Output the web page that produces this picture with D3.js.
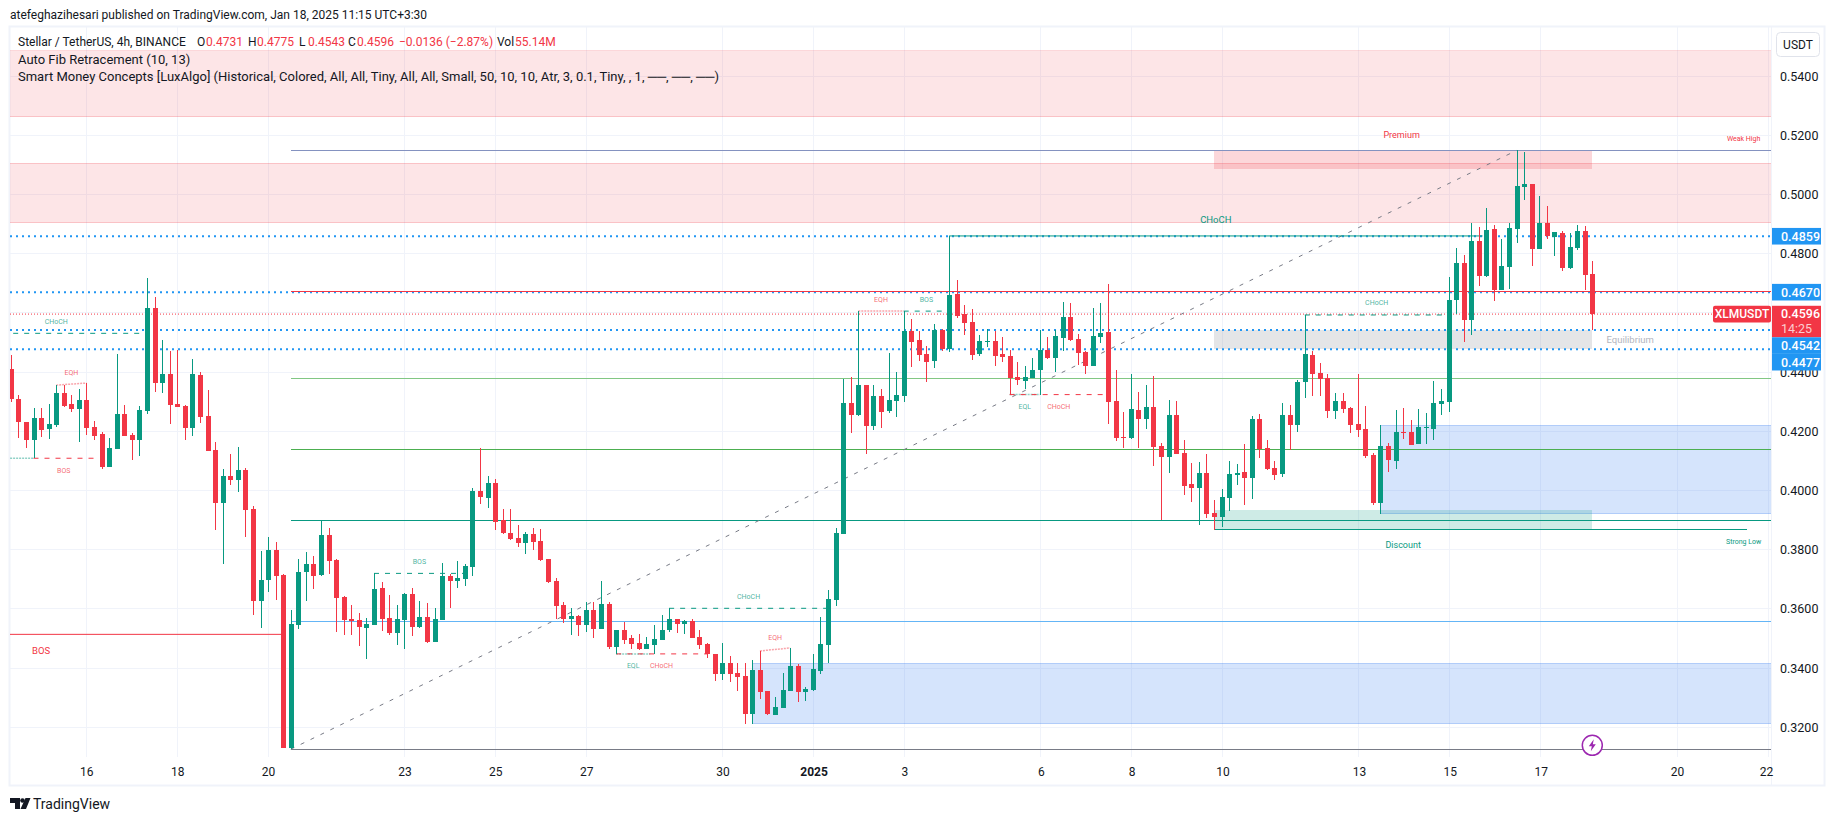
<!DOCTYPE html>
<html>
<head>
<meta charset="utf-8">
<script src="https://cdn.jsdelivr.net/npm/d3@7"></script>
<style>
  body { margin: 0; background: #fff; }
  svg { display: block; }
  text { font-family: Roboto, sans-serif; }
</style>
</head>
<body>
<div class="svg-container"></div>
<script>
// XLMUSDT 4h candles, left to right
let opens = [
  .4410,.4309,.4231,.4171,.4245,.4208,.4221,.4329,.4292,.4275,
  .4306,.4215,.4191,.4079,.4140,.4258,.4188,.4171,.4269,.4616,
  .4363,.4394,.4292,.4285,.4211,.4390,.4252,.4137,.3958,.4049,
  .4035,.4069,.3938,.3627,.3698,.3799,.3715,.3130,.3546,.3725,
  .3752,.3715,.3850,.3765,.3640,.3566,.3563,.3536,.3546,.3671,
  .3569,.3519,.3563,.3650,.3539,.3573,.3488,.3563,.3711,.3694,
  .3701,.3742,.3998,.3975,.4025,.3900,.3856,.3840,.3823,.3853,
  .3829,.3769,.3694,.3613,.3566,.3576,.3546,.3596,.3532,.3617,
  .3471,.3529,.3502,.3485,.3465,.3478,.3495,.3529,.3566,.3549,
  .3559,.3505,.3481,.3448,.3380,.3417,.3384,.3373,.3245,.3394,
  .3323,.3242,.3265,.3323,.3407,.3319,.3326,.3390,.3478,.3630,
  .3853,.4296,.4255,.4356,.4218,.4319,.4269,.4302,.4319,.4539,
  .4508,.4461,.4438,.4542,.4478,.4664,.4596,.4569,.4461,.4502,
  .4505,.4461,.4454,.4384,.4370,.4380,.4407,.4475,.4448,.4515,
  .4586,.4512,.4468,.4421,.4519,.4536,.4302,.4181,.4177,.4272,
  .4242,.4282,.4150,.4113,.4255,.4127,.4022,.4009,.4059,.3924,
  .3911,.3975,.4052,.4063,.4042,.4242,.4144,.4076,.4056,.4255,
  .4221,.4367,.4458,.4397,.4380,.4269,.4302,.4279,.4225,.4208,
  .4120,.3958,.4150,.4100,.4198,.4198,.4157,.4211,.4208,.4292,
  .4299,.4644,.4769,.4576,.4843,.4725,.4883,.4677,.4755,.4883,
  .5025,.5036,.4816,.4904,.4856,.4870,.4752,.4819,.4877,.4731
];
let highs = [
  .4458,.4323,.4231,.4279,.4279,.4292,.4356,.4356,.4323,.4343,
  .4363,.4235,.4198,.4177,.4461,.4289,.4194,.4285,.4718,.4654,
  .4508,.4471,.4475,.4289,.4444,.4400,.4340,.4164,.4073,.4123,
  .4147,.4076,.3948,.3796,.3843,.3826,.3718,.3596,.3769,.3792,
  .3779,.3897,.3873,.3769,.3644,.3613,.3586,.3569,.3720,.3691,
  .3647,.3613,.3654,.3671,.3627,.3620,.3603,.3755,.3718,.3762,
  .3752,.4008,.4144,.4049,.4039,.3938,.3938,.3883,.3860,.3873,
  .3870,.3769,.3704,.3623,.3603,.3579,.3623,.3623,.3694,.3623,
  .3529,.3556,.3512,.3515,.3505,.3546,.3579,.3603,.3566,.3563,
  .3566,.3529,.3485,.3448,.3485,.3441,.3417,.3417,.3427,.3458,
  .3323,.3302,.3384,.3468,.3414,.3336,.3448,.3573,.3664,.3873,
  .4376,.4384,.4606,.4356,.4356,.4343,.4465,.4400,.4606,.4579,
  .4539,.4488,.4563,.4546,.4860,.4711,.4627,.4613,.4525,.4546,
  .4539,.4519,.4475,.4434,.4421,.4448,.4542,.4519,.4542,.4637,
  .4634,.4529,.4471,.4617,.4634,.4698,.4407,.4265,.4394,.4333,
  .4356,.4387,.4161,.4306,.4302,.4171,.4093,.4096,.4123,.3968,
  .4005,.4100,.4090,.4157,.4252,.4259,.4171,.4100,.4296,.4289,
  .4373,.4593,.4471,.4431,.4394,.4329,.4329,.4282,.4394,.4285,
  .4127,.4221,.4161,.4272,.4279,.4238,.4275,.4262,.4370,.4343,
  .4721,.4819,.4796,.4904,.4890,.4954,.4897,.4850,.4904,.5150,
  .5144,.5036,.4995,.4961,.4873,.4877,.4870,.4897,.4894,.4775
];
let lows = [
  .4299,.4177,.4144,.4109,.4181,.4174,.4215,.4282,.4265,.4164,
  .4188,.4171,.4073,.4079,.4140,.4184,.4103,.4117,.4258,.4333,
  .4329,.4225,.4282,.4171,.4184,.4228,.4133,.3867,.3752,.4019,
  .3995,.3843,.3579,.3536,.3657,.3630,.3130,.3126,.3532,.3627,
  .3667,.3711,.3718,.3522,.3512,.3512,.3475,.3431,.3546,.3525,
  .3512,.3478,.3465,.3509,.3536,.3485,.3488,.3563,.3603,.3671,
  .3677,.3711,.3954,.3941,.3867,.3853,.3833,.3809,.3786,.3799,
  .3762,.3688,.3566,.3552,.3512,.3509,.3522,.3502,.3532,.3465,
  .3448,.3481,.3465,.3461,.3465,.3448,.3495,.3522,.3519,.3515,
  .3502,.3465,.3434,.3356,.3360,.3353,.3323,.3211,.3211,.3296,
  .3242,.3242,.3265,.3323,.3285,.3289,.3323,.3380,.3417,.3610,
  .3853,.4194,.4252,.4123,.4204,.4211,.4262,.4248,.4299,.4417,
  .4438,.4367,.4414,.4471,.4468,.4583,.4525,.4441,.4454,.4485,
  .4421,.4434,.4323,.4357,.4343,.4380,.4323,.4444,.4400,.4471,
  .4505,.4424,.4394,.4421,.4498,.4225,.4167,.4144,.4174,.4144,
  .4208,.4083,.3900,.4059,.4123,.3985,.3961,.3884,.3907,.3867,
  .3877,.3931,.4019,.3951,.3971,.4110,.4069,.4036,.4046,.4137,
  .4198,.4313,.4319,.4319,.4245,.4242,.4262,.4194,.4181,.4110,
  .3951,.3921,.4063,.4073,.4174,.4154,.4157,.4157,.4171,.4255,
  .4265,.4596,.4502,.4525,.4691,.4721,.4640,.4677,.4681,.4836,
  .4981,.4758,.4816,.4850,.4792,.4742,.4748,.4813,.4677,.4543
];
let closes = [
  .4309,.4231,.4171,.4245,.4204,.4225,.4329,.4285,.4275,.4306,
  .4211,.4184,.4079,.4144,.4258,.4184,.4171,.4272,.4616,.4363,
  .4394,.4289,.4282,.4211,.4394,.4248,.4133,.3958,.4049,.4035,
  .4069,.3934,.3627,.3698,.3799,.3711,.3130,.3549,.3725,.3752,
  .3711,.3850,.3762,.3637,.3563,.3559,.3539,.3549,.3667,.3566,
  .3519,.3566,.3650,.3539,.3573,.3488,.3566,.3711,.3694,.3704,
  .3745,.3998,.3978,.4025,.3894,.3856,.3836,.3823,.3853,.3826,
  .3765,.3691,.3610,.3566,.3576,.3546,.3596,.3532,.3617,.3471,
  .3529,.3495,.3481,.3465,.3481,.3498,.3529,.3566,.3549,.3559,
  .3502,.3478,.3448,.3380,.3417,.3380,.3370,.3245,.3394,.3319,
  .3245,.3269,.3326,.3407,.3319,.3329,.3397,.3481,.3633,.3856,
  .4296,.4255,.4356,.4218,.4319,.4265,.4306,.4323,.4539,.4502,
  .4458,.4434,.4542,.4478,.4661,.4590,.4566,.4458,.4505,.4505,
  .4454,.4451,.4380,.4373,.4384,.4407,.4475,.4448,.4522,.4586,
  .4508,.4465,.4421,.4522,.4532,.4299,.4177,.4177,.4275,.4242,
  .4282,.4147,.4113,.4255,.4123,.4015,.4009,.4059,.3921,.3911,
  .3978,.4056,.4059,.4042,.4242,.4140,.4073,.4052,.4255,.4221,
  .4367,.4461,.4394,.4377,.4269,.4302,.4275,.4221,.4204,.4117,
  .3958,.4150,.4103,.4198,.4194,.4154,.4215,.4215,.4296,.4302,
  .4644,.4769,.4576,.4843,.4725,.4880,.4677,.4758,.4887,.5029,
  .5036,.4816,.4904,.4860,.4873,.4752,.4823,.4877,.4728,.4596
];

// axis ticks
let priceTicks = [.32,.34,.36,.38,.40,.42,.44,.46,.48,.50,.52,.54];
let priceLabelTicks = [.32,.34,.36,.38,.40,.42,.44,.48,.50,.52,.54]; // .46 sits behind the red badge
let tickDays = [0,2,4,7,9,11,14,16,18,21,23,25,28,30,32,35,37]; // days after Dec 16
let tickLabels = ['16','18','20','23','25','27','30','2025','3','6','8','10','13','15','17','20','22'];

// horizontal alerts (blue dotted)
let alertPrices = [.4859,.4670,.4542,.4477];

// fib levels
let fibPrices = [.5149,.4672,.4377,.4138,.3899,.3559,.3126];
let fibColors = ['#8492c0','#f23645','#81c784','#4caf50','#089981','#64b5f6','#787b86'];
let fibFromBar = 37;

// trend line of the auto fib
let trendBars = [37,199];
let trendPrices = [.3126,.5149];

// boxes
let zoneKinds   = ['supply','supply','demand','demand','premium','equilibrium','discount'];
let zoneFrom    = [-10,-10,98,181,159,159,159];
let zoneTo      = [240,240,240,240,209,209,209];
let zoneTop     = [.5485,.5105,.3416,.4220,.5149,.4542,.3934];
let zoneBottom  = [.5263,.4905,.3212,.3922,.5086,.4477,.3869];

// strong low line
let strongLowBars = [159,229.4];
let strongLowPrice = .3869;

// market structure
let structLabels  = ['CHoCH','EQH','BOS','EQL','BOS','BOS','EQL','CHoCH','CHoCH','EQH','EQH','BOS','EQL','CHoCH','CHoCH','CHoCH'];
let structFrom    = [-5.5,6,3,-10,-28,48,80,80,87,99,112,118,132,132,171,124];
let structTo      = [17.5,10,11,3,36,60,84.5,92,108,103,118,124,136,145,190,194.5];
let structPrice   = [.4531,.4356,.4109,.4109,.3514,.3720,.3448,.3448,.3602,.3458,.4606,.4606,.4324,.4324,.4593,.4860];
let structEnd     = [.4531,.4363,.4109,.4109,.3514,.3720,.3448,.3448,.3602,.3468,.4606,.4606,.4324,.4324,.4593,.4860];
let structBullish = [true,false,false,true,false,true,true,false,true,false,false,true,true,false,true,true];
let structSwing   = [false,false,false,false,true,false,false,false,false,false,false,false,false,false,false,true];

let legendNames = ['O','H','L','C'];
let lastBar = opens.length - 1;
let legendValues = [opens[lastBar],highs[lastBar],lows[lastBar],closes[lastBar]];

let upColor = '#089981';
let downColor = '#f23645';
let textColor = '#131722';
let gridColor = '#f0f3fa';
let alertColor = '#2196f3';

let w = 1835;
let h = 821;
let paneLeft = 10;
let paneRight = 1771;
let paneTop = 27;
let paneBottom = 757;

let svg = d3.select(".svg-container")
  .append("svg")
  .attr('width',w)
  .attr('height',h);

svg.append("clipPath").attr("id","pane")
  .append("rect")
  .attr("x",paneLeft)
  .attr("y",paneTop)
  .attr("width",paneRight-paneLeft)
  .attr("height",paneBottom-paneTop);

let xBar = d3.scaleLinear().domain([0,209]).range([10.8,1592.3]);
let xDay = d3.scaleLinear().domain([0,37]).range([86.3,1768]);
let y = d3.scaleLinear().domain([.32,.52]).range([727.3,135.3]);

// frame
svg.append("rect")
  .attr("x",9.5).attr("y",26.5)
  .attr("width",1815).attr("height",759)
  .attr("fill","none")
  .attr("stroke",gridColor)
  .attr("stroke-width",2);
svg.append("line")
  .attr("x1",paneRight+.5).attr("x2",paneRight+.5)
  .attr("y1",paneTop).attr("y2",785)
  .attr("stroke",gridColor);

let chart = svg.append("g").attr("clip-path","url(#pane)");

// grid
chart.selectAll(".hgrid").data(priceTicks).enter().append("line")
  .attr("class","hgrid")
  .attr("x1",paneLeft).attr("x2",paneRight)
  .attr("y1",function(d){ return y(d); })
  .attr("y2",function(d){ return y(d); })
  .attr("stroke",gridColor)
  .attr("shape-rendering","crispEdges");
chart.selectAll(".vgrid").data(tickDays).enter().append("line")
  .attr("class","vgrid")
  .attr("x1",function(d){ return xDay(d); })
  .attr("x2",function(d){ return xDay(d); })
  .attr("y1",paneTop).attr("y2",paneBottom)
  .attr("stroke",gridColor)
  .attr("shape-rendering","crispEdges");

// zones
let zoneFill = {
  supply:'rgba(242,54,69,0.13)',
  demand:'rgba(33,110,240,0.19)',
  premium:'rgba(242,54,69,0.2)',
  equilibrium:'rgba(120,123,134,0.2)',
  discount:'rgba(8,153,129,0.2)'
};
let zoneStroke = {
  supply:'rgba(242,54,69,0.2)',
  demand:'rgba(33,110,240,0.2)'
};
chart.selectAll(".zone").data(zoneKinds).enter().append("rect")
  .attr("class","zone")
  .attr("x",function(d,i){ return xBar(zoneFrom[i]); })
  .attr("y",function(d,i){ return y(zoneTop[i]); })
  .attr("width",function(d,i){ return xBar(zoneTo[i])-xBar(zoneFrom[i]); })
  .attr("height",function(d,i){ return y(zoneBottom[i])-y(zoneTop[i]); })
  .attr("fill",function(d){ return zoneFill[d]; })
  .attr("stroke",function(d){ return zoneStroke[d] || 'none'; })
  .attr("shape-rendering","crispEdges");

// alerts
chart.selectAll(".alert").data(alertPrices).enter().append("line")
  .attr("class","alert")
  .attr("x1",paneLeft).attr("x2",paneRight)
  .attr("y1",function(d){ return y(d); })
  .attr("y2",function(d){ return y(d); })
  .attr("stroke",alertColor)
  .attr("stroke-width",2)
  .attr("stroke-dasharray","2,4");

// last price line
chart.append("line")
  .attr("x1",paneLeft).attr("x2",paneRight)
  .attr("y1",y(closes[lastBar])).attr("y2",y(closes[lastBar]))
  .attr("stroke",downColor)
  .attr("stroke-dasharray","1,2");

// fib
chart.selectAll(".fib").data(fibPrices).enter().append("line")
  .attr("class","fib")
  .attr("x1",xBar(fibFromBar)).attr("x2",paneRight)
  .attr("y1",function(d){ return y(d); })
  .attr("y2",function(d){ return y(d); })
  .attr("stroke",function(d,i){ return fibColors[i]; })
  .attr("shape-rendering","crispEdges");

chart.append("line")
  .attr("x1",xBar(trendBars[0])).attr("x2",xBar(trendBars[1]))
  .attr("y1",y(trendPrices[0])).attr("y2",y(trendPrices[1]))
  .attr("stroke","#787b86")
  .attr("stroke-dasharray","4,7");

chart.append("line")
  .attr("x1",xBar(strongLowBars[0])).attr("x2",xBar(strongLowBars[1]))
  .attr("y1",y(strongLowPrice)).attr("y2",y(strongLowPrice))
  .attr("stroke",upColor)
  .attr("shape-rendering","crispEdges");

// structure lines
function isEqual(label){ return label == 'EQH' || label == 'EQL'; }
chart.selectAll(".struct").data(structLabels).enter().append("line")
  .attr("class","struct")
  .attr("x1",function(d,i){ return xBar(structFrom[i]); })
  .attr("x2",function(d,i){ return xBar(structTo[i]); })
  .attr("y1",function(d,i){ return y(structPrice[i]); })
  .attr("y2",function(d,i){ return y(structEnd[i]); })
  .attr("stroke",function(d,i){ return structBullish[i] ? upColor : downColor; })
  .attr("stroke-width",function(d){ return isEqual(d) ? 1.5 : 1; })
  .attr("stroke-opacity",function(d){ return isEqual(d) ? .45 : 1; })
  .attr("stroke-dasharray",function(d,i){
    if(structSwing[i]){ return null; }
    return isEqual(d) ? "2,1" : "5,6";
  });

// the label of a line that starts off the chart falls outside, so it is skipped
function labelX(i){ return (xBar(structFrom[i])+xBar(structTo[i]))/2; }
let labelled = structLabels.map(function(d,i){ return i; })
  .filter(function(i){ return labelX(i) > paneLeft+8; });

chart.selectAll(".structText").data(labelled).enter().append("text")
  .attr("class","structText")
  .attr("x",function(i){ return labelX(i); })
  .attr("y",function(i){
    let d = structLabels[i];
    let above = d == 'EQH' || (d != 'EQL' && structBullish[i]);
    let gap = structSwing[i] ? 16 : 12;
    let mid = (y(structPrice[i])+y(structEnd[i]))/2;
    return mid + (above ? -gap : gap);
  })
  .attr("dy",".35em")
  .attr("text-anchor","middle")
  .attr("font-size",function(i){ return structSwing[i] ? 9.5 : 7; })
  .attr("fill",function(i){ return structBullish[i] ? upColor : downColor; })
  .attr("fill-opacity",function(i){ return structSwing[i] ? 1 : .75; })
  .text(function(i){ return structLabels[i]; });

// zone captions
function caption(txt,bar,price,size,color){
  chart.append("text")
    .attr("x",xBar(bar)).attr("y",y(price))
    .attr("dy",".35em")
    .attr("text-anchor","middle")
    .attr("font-size",size)
    .attr("fill",color)
    .text(txt);
}
caption("Premium",183.8,.5203,9,downColor);
caption("Discount",184,.3817,9,upColor);
caption("Equilibrium",214,.4509,9.5,'#b2b5be');
caption("Weak High",229,.5189,7,downColor);
caption("Strong Low",229,.3827,7,upColor);

// candles
let bars = chart.selectAll(".bar").data(opens).enter().append("g")
  .attr("class","bar")
  .attr("fill",function(d,i){ return closes[i] >= d ? upColor : downColor; })
  .attr("shape-rendering","crispEdges");

bars.append("rect")
  .attr("x",function(d,i){ return Math.round(xBar(i)); })
  .attr("width",1)
  .attr("y",function(d,i){ return y(highs[i]); })
  .attr("height",function(d,i){ return y(lows[i])-y(highs[i]); });

bars.append("rect")
  .attr("x",function(d,i){ return Math.round(xBar(i))-2; })
  .attr("width",5)
  .attr("y",function(d,i){ return y(Math.max(d,closes[i])); })
  .attr("height",function(d,i){ return Math.max(1,Math.abs(y(d)-y(closes[i]))); });

// axes
let yAxis = d3.axisRight(y)
  .tickValues(priceLabelTicks)
  .tickFormat(d3.format(".4f"))
  .tickSize(0)
  .tickPadding(9);
let yAxisGroup = svg.append("g")
  .attr("transform","translate("+paneRight+",0)")
  .call(yAxis);
yAxisGroup.select(".domain").remove();
yAxisGroup.selectAll("text").attr("font-size",12.5).attr("fill",textColor).style("font-family","Roboto, sans-serif");

let xAxis = d3.axisBottom(xDay)
  .tickValues(tickDays)
  .tickFormat(function(d,i){ return tickLabels[i]; })
  .tickSize(0)
  .tickPadding(10);
let xAxisGroup = svg.append("g")
  .attr("transform","translate(0,"+paneBottom+")")
  .call(xAxis);
xAxisGroup.select(".domain").remove();
xAxisGroup.selectAll("text")
  .attr("font-size",12)
  .attr("fill",textColor)
  .attr("font-weight",function(d,i){ return tickLabels[i] == '2025' ? 700 : 400; })
  .attr("dx",function(d){ return d == 37 ? -2 : 0; })
  .style("font-family","Roboto, sans-serif");

// price badges on the right
let badgeX = paneRight+1;
let badgeW = 49;
let lastY = y(closes[lastBar]);

svg.append("rect")
  .attr("x",badgeX).attr("y",lastY-8.3)
  .attr("width",badgeW).attr("height",31.5)
  .attr("fill",downColor);
svg.append("rect")
  .attr("x",paneRight-58).attr("y",lastY-8.3)
  .attr("width",58).attr("height",16.6)
  .attr("rx",2)
  .attr("fill",downColor);
svg.append("text")
  .attr("x",paneRight-29).attr("y",lastY).attr("dy",".35em")
  .attr("text-anchor","middle")
  .attr("font-size",12).attr("font-weight",500).attr("fill","#fff")
  .text("XLMUSDT");
svg.append("text")
  .attr("x",badgeX+9).attr("y",lastY).attr("dy",".35em")
  .attr("font-size",12.5).attr("font-weight",500).attr("fill","#fff")
  .text(d3.format(".4f")(closes[lastBar]));
svg.append("text")
  .attr("x",badgeX+9).attr("y",lastY+15).attr("dy",".35em")
  .attr("font-size",12.5).attr("fill","#fff").attr("fill-opacity",.75)
  .text("14:25");

// alerts are pushed down so they do not sit on top of the last price block
let nextFree = 0;
alertPrices.forEach(function(p){
  let cy = y(p);
  if(cy-8.3 < nextFree){ cy = nextFree+8.3; }
  if(p < closes[lastBar] && cy-8.3 < lastY+23.2){ cy = lastY+23.2+8.3; }
  nextFree = cy+8.3;
  svg.append("rect")
    .attr("x",badgeX).attr("y",cy-8.3)
    .attr("width",badgeW).attr("height",16.6)
    .attr("fill",alertColor);
  svg.append("text")
    .attr("x",badgeX+9).attr("y",cy).attr("dy",".35em")
    .attr("font-size",12.5).attr("font-weight",500).attr("fill","#fff")
    .text(d3.format(".4f")(p));
});

// USDT button
svg.append("rect")
  .attr("x",1776.5).attr("y",32.5)
  .attr("width",43).attr("height",24)
  .attr("rx",4)
  .attr("fill","#fff")
  .attr("stroke","#e0e3eb");
svg.append("text")
  .attr("x",1798).attr("y",44.5).attr("dy",".35em")
  .attr("text-anchor","middle")
  .attr("font-size",12).attr("fill",textColor)
  .text("USDT");

// legend and title
svg.append("text")
  .attr("x",10).attr("y",14.7).attr("dy",".35em")
  .attr("font-size",12).attr("fill",textColor)
  .text("atefeghazihesari published on TradingView.com, Jan 18, 2025 11:15 UTC+3:30");

function legendText(txt,x,line,color,size){
  svg.append("text")
    .attr("x",x).attr("y",line).attr("dy",".35em")
    .attr("font-size",size || 12).attr("fill",color)
    .text(txt);
}
legendText("Stellar / TetherUS, 4h, BINANCE",18,42,textColor);
let legendNameX = [197,248,299,348];
legendNames.forEach(function(name,i){
  legendText(name,legendNameX[i],42,textColor);
  legendText(d3.format(".4f")(legendValues[i]),legendNameX[i]+9,42,downColor);
});
legendText("\u22120.0136 (\u22122.87%)",399,42,downColor);
legendText("Vol",497,42,textColor);
legendText("55.14M",515,42,downColor);
legendText("Auto Fib Retracement (10, 13)",18,59,textColor,13);
legendText("Smart Money Concepts [LuxAlgo] (Historical, Colored, All, All, Tiny, All, All, Small, 50, 10, 10, Atr, 3, 0.1, Tiny, , 1, \u2500\u2500, \u2500\u2500, \u2500\u2500)",18,76,textColor,13);

// lightning mark
let mark = svg.append("g").attr("transform","translate("+xBar(lastBar)+",745.3)");
mark.append("circle").attr("r",10).attr("fill","#fff").attr("stroke","#9c27b0").attr("stroke-width",1.5);
mark.append("path").attr("d","M1.5,-6 L-3.5,1 L-0.5,1 L-1.5,6 L3.5,-1 L0.5,-1 Z").attr("fill","#9c27b0");

// TradingView logo
svg.append("path")
  .attr("d","M10,798 H20 V809 H15 V803 H10 Z M25.5,798 H30.5 L26,809 H20.5 Z")
  .attr("fill",textColor);
svg.append("circle").attr("cx",22.5).attr("cy",800.5).attr("r",2.3).attr("fill",textColor);
svg.append("text")
  .attr("x",33).attr("y",804).attr("dy",".35em")
  .attr("font-size",14).attr("fill",textColor)
  .text("TradingView");
</script>
</body>
</html>
